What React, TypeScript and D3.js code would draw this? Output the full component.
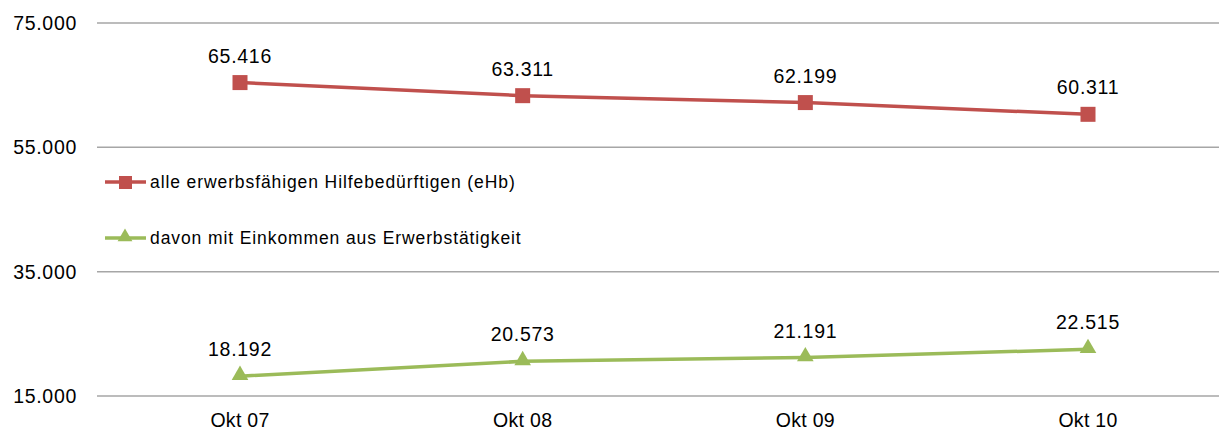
import * as d3 from 'd3'

const categories = ['Okt 07', 'Okt 08', 'Okt 09', 'Okt 10']
const allValues = [65416, 63311, 62199, 60311]
const workingValues = [18192, 20573, 21191, 22515]
const yTicks = [15000, 35000, 55000, 75000]
const seriesNames = [
  'alle erwerbsfähigen Hilfebedürftigen (eHb)',
  'davon mit Einkommen aus Erwerbstätigkeit',
]

const width = 1219
const height = 432
const red = '#C0504D'
const green = '#9BBB59'
const font = 'Liberation Sans, Arial, sans-serif'

const fmt = (v: number) => d3.format(',')(v).replace(/,/g, '.')

export default () => {
  const x = d3.scalePoint<string>().domain(categories).range([240, 1088])
  const y = d3.scaleLinear().domain([15000, 75000]).range([396, 23])
  const line = d3
    .line<number>()
    .x((_, i) => x(categories[i]) as number)
    .y((d) => y(d))

  const tri = d3.symbol().type(d3.symbolTriangle).size(120)

  return (
    <svg
      width={width}
      height={height}
      style={{ position: 'absolute', left: 0, top: 0, background: '#fff' }}
      fontFamily={font}
    >
      {/* grid + y labels */}
      {yTicks.map((t) => (
        <g key={t}>
          <line x1={97} x2={width} y1={y(t)} y2={y(t)} stroke="#a6a6a6" strokeWidth={1.5} />
          <text x={77} y={y(t)} dy="0.36em" textAnchor="end" fontSize={19.5} letterSpacing={0.7}>
            {fmt(t)}
          </text>
        </g>
      ))}

      {/* x labels */}
      {categories.map((c) => (
        <text key={c} x={x(c)} y={427} textAnchor="middle" fontSize={19.5} letterSpacing={0.3}>
          {c}
        </text>
      ))}

      {/* red series */}
      <path d={line(allValues) as string} fill="none" stroke={red} strokeWidth={3.5} />
      {allValues.map((v, i) => (
        <g key={i}>
          <rect
            x={(x(categories[i]) as number) - 7.5}
            y={y(v) - 7.5}
            width={15}
            height={15}
            fill={red}
          />
          <text x={x(categories[i])} y={y(v) - 20} textAnchor="middle" fontSize={19.5} letterSpacing={0.7}>
            {fmt(v)}
          </text>
        </g>
      ))}

      {/* green series */}
      <path d={line(workingValues) as string} fill="none" stroke={green} strokeWidth={3.5} />
      {workingValues.map((v, i) => (
        <g key={i}>
          <path
            d={tri() as string}
            transform={`translate(${x(categories[i])},${y(v) - 1})`}
            fill={green}
          />
          <text x={x(categories[i])} y={y(v) - 20} textAnchor="middle" fontSize={19.5} letterSpacing={0.7}>
            {fmt(v)}
          </text>
        </g>
      ))}

      {/* legend */}
      <g>
        <line x1={105} x2={146} y1={182} y2={182} stroke={red} strokeWidth={3.5} />
        <rect x={119} y={176} width={13} height={13} fill={red} />
        <text x={150} y={182} dy="0.36em" fontSize={17.5} letterSpacing={0.9}>
          {seriesNames[0]}
        </text>
        <line x1={105} x2={146} y1={238} y2={238} stroke={green} strokeWidth={3.5} />
        <path d={d3.symbol().type(d3.symbolTriangle).size(95)() as string} transform="translate(125,237)" fill={green} />
        <text x={150} y={238} dy="0.36em" fontSize={17.5} letterSpacing={0.9}>
          {seriesNames[1]}
        </text>
      </g>
    </svg>
  )
}
